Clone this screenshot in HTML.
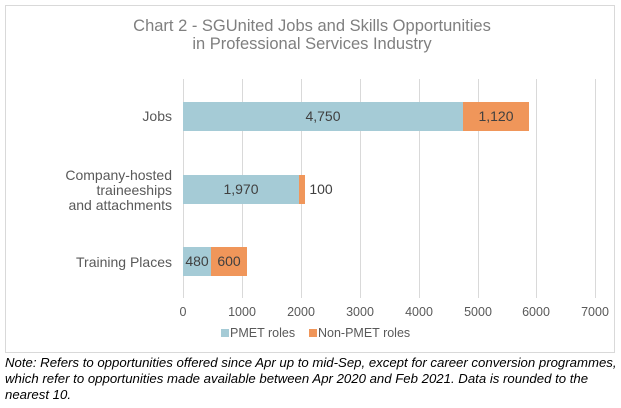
<!DOCTYPE html>
<html><head><style>
body{margin:0;background:#fff;width:621px;height:403px;overflow:hidden;font-family:"Liberation Sans",sans-serif;}
</style></head><body>
<svg width="621" height="403" xmlns="http://www.w3.org/2000/svg" font-family="Liberation Sans, sans-serif">
<rect x="5.5" y="5.5" width="609" height="347" fill="#fff" stroke="#d9d9d9"/>
<text x="312" y="31" text-anchor="middle" font-size="16.5" fill="#7f7f7f">Chart 2 - SGUnited Jobs and Skills Opportunities</text>
<text x="312" y="49" text-anchor="middle" font-size="16.5" fill="#7f7f7f">in Professional Services Industry</text>
<g stroke="#d9d9d9" stroke-width="1">
<line x1="183.5" y1="79" x2="183.5" y2="298"/><line x1="242.5" y1="79" x2="242.5" y2="298"/>
<line x1="301.5" y1="79" x2="301.5" y2="298"/><line x1="360.5" y1="79" x2="360.5" y2="298"/>
<line x1="419.5" y1="79" x2="419.5" y2="298"/><line x1="478.5" y1="79" x2="478.5" y2="298"/>
<line x1="536.5" y1="79" x2="536.5" y2="298"/><line x1="595.5" y1="79" x2="595.5" y2="298"/>
</g>
<rect x="183" y="102" width="280" height="29" fill="#a5cbd6"/>
<rect x="463" y="102" width="66" height="29" fill="#f0965a"/>
<rect x="183" y="175" width="116" height="29" fill="#a5cbd6"/>
<rect x="299" y="175" width="6" height="29" fill="#f0965a"/>
<rect x="183" y="247" width="28" height="29" fill="#a5cbd6"/>
<rect x="211" y="247" width="36" height="29" fill="#f0965a"/>
<g font-size="14" fill="#404040" text-anchor="middle">
<text x="323" y="121">4,750</text><text x="496" y="121">1,120</text>
<text x="241" y="194">1,970</text><text x="321" y="194">100</text>
<text x="197" y="266">480</text><text x="229" y="266">600</text>
</g>
<g font-size="14" fill="#595959" text-anchor="end">
<text x="172" y="121">Jobs</text>
<text x="172" y="180">Company-hosted</text>
<text x="172" y="195">traineeships</text>
<text x="172" y="210">and attachments</text>
<text x="172" y="267">Training Places</text>
</g>
<g font-size="12.5" fill="#595959" text-anchor="middle">
<text x="183" y="316">0</text><text x="242" y="316">1000</text><text x="301" y="316">2000</text>
<text x="360" y="316">3000</text><text x="419" y="316">4000</text><text x="478" y="316">5000</text>
<text x="536" y="316">6000</text><text x="595" y="316">7000</text>
</g>
<rect x="221" y="329" width="8" height="8" fill="#a5cbd6"/>
<text x="230" y="337" font-size="12.5" fill="#595959">PMET roles</text>
<rect x="309" y="329" width="8" height="8" fill="#f0965a"/>
<text x="318" y="337" font-size="12.5" fill="#595959">Non-PMET roles</text>
<g font-size="13.2" font-style="italic" fill="#000">
<text x="5" y="367">Note: Refers to opportunities offered since Apr up to mid-Sep, except for career conversion programmes,</text>
<text x="5" y="383">which refer to opportunities made available between Apr 2020 and Feb 2021. Data is rounded to the</text>
<text x="5" y="399">nearest 10.</text>
</g>
</svg>
</body></html>
